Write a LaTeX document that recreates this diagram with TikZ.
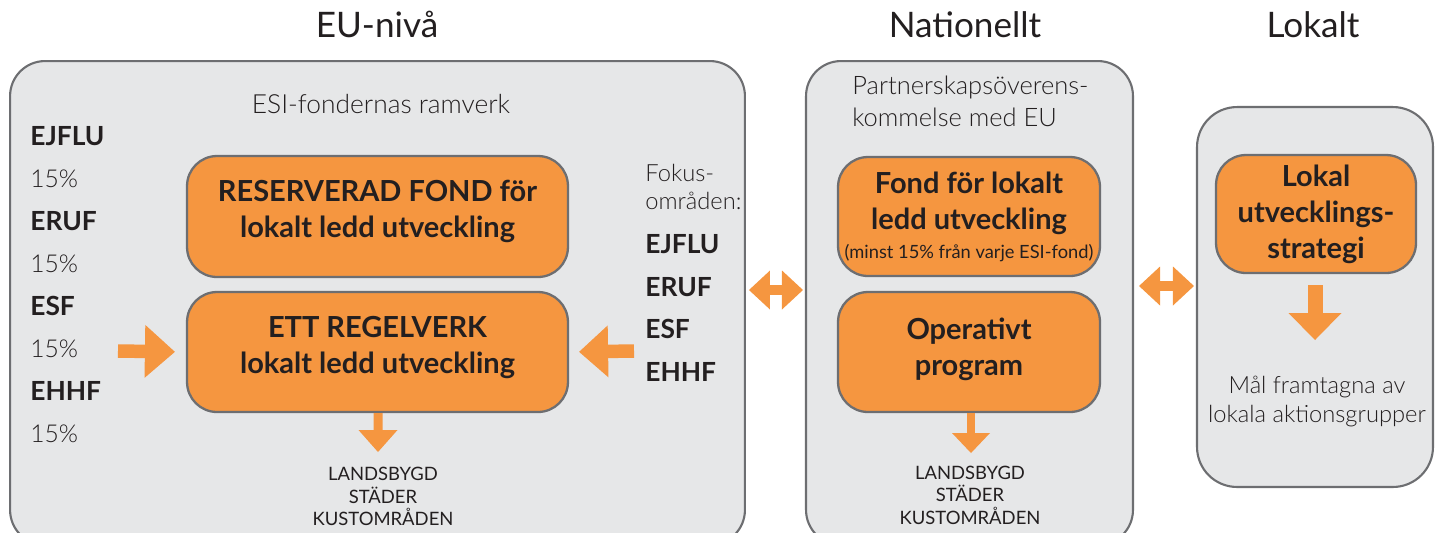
\documentclass[tikz,border=0pt]{standalone}
\usepackage{fontspec}
\setmainfont{Lato}
\newfontfamily\lightfont{Lato Light}
\usetikzlibrary{arrows.meta,positioning}
\definecolor{esiorange}{RGB}{245,150,64}
\definecolor{panelgray}{RGB}{230,231,232}
\definecolor{framegray}{RGB}{109,110,113}
\definecolor{ink}{RGB}{35,31,32}

\tikzset{
  panel/.style={draw=framegray,fill=panelgray,line width=1.2pt,rounded corners=0.7cm},
  fondbox/.style={draw=framegray,fill=esiorange,line width=1.3pt,rounded corners=0.6cm,
    align=center,text=ink,font=\bfseries\fontsize{16.5}{20.5}\selectfont},
  heading/.style={anchor=base,text=ink,font=\fontsize{20}{24}\selectfont},
  fundlabel/.style={anchor=base west,inner sep=0pt,text=ink,font=\bfseries\fontsize{15}{18}\selectfont},
  sharelabel/.style={anchor=base west,inner sep=0pt,text=ink,font=\lightfont\fontsize{14}{17}\selectfont},
  lighttext/.style={text=ink,font=\lightfont\fontsize{14.5}{18.2}\selectfont},
  areatext/.style={align=center,text=ink,font=\fontsize{10.5}{12.8}\selectfont},
  blockarrow/.style n args={4}{esiorange,line width=#1,
    -{Triangle[length=#2,width=#3,line width=0pt]},shorten >=#4},
  dblarrow/.style={esiorange,line width=0.2cm,
    {Triangle[length=0.42cm,width=0.78cm,line width=0pt]}-{Triangle[length=0.42cm,width=0.78cm,line width=0pt]}},
}

\begin{document}
\begin{tikzpicture}[x=0.02cm,y=-0.02cm]
\clip (0,0) rectangle (1437,532);

\node[heading] (hEU) at (377,37) {EU-nivå};
\node[heading] (hNat) at (965,37) {Nationellt};
\node[heading] (hLok) at (1313,37) {Lokalt};

\node[panel,minimum width=14.7cm,minimum height=9.68cm] (eu) at (377.5,303) {};
\node[panel,minimum width=6.54cm,minimum height=9.68cm] (nat) at (969.5,303) {};
\node[panel,minimum width=4.72cm,minimum height=7.6cm,rounded corners=0.8cm] (lok) at (1315,297) {};

% EU-nivå
\node[lighttext,anchor=base,font=\lightfont\fontsize{15}{18}\selectfont] (ramverk) at (381,113) {ESI-fondernas ramverk};
\node[fundlabel] (fA) at (30,145) {EJFLU};
\node[sharelabel] (sA) at (30,187) {15\%};
\node[fundlabel] (fB) at (30,230) {ERUF};
\node[sharelabel] (sB) at (30,272) {15\%};
\node[fundlabel] (fC) at (30,315) {ESF};
\node[sharelabel] (sC) at (30,357) {15\%};
\node[fundlabel] (fD) at (30,400) {EHHF};
\node[sharelabel] (sD) at (30,442) {15\%};

\node[fondbox,minimum width=7.62cm,minimum height=2.42cm,text depth=9pt] (reserv) at (377.5,216.5)
  {RESERVERAD FOND för\\lokalt ledd utveckling};
\node[fondbox,minimum width=7.62cm,minimum height=2.4cm,text depth=8pt] (regel) at (377.5,352)
  {ETT REGELVERK\\lokalt ledd utveckling};

\node[lighttext,align=left,anchor=west,inner sep=0pt,font=\lightfont\fontsize{13.5}{16.4}\selectfont] (fokus) at (645,187) {Fokus-\\områden:};
\node[fundlabel] (kA) at (645,253) {EJFLU};
\node[fundlabel] (kB) at (645,296) {ERUF};
\node[fundlabel] (kC) at (645,338) {ESF};
\node[fundlabel] (kD) at (645,381) {EHHF};

\coordinate (inL) at (118,351);
\coordinate (inR) at (634,351);
\coordinate (utEU) at (378,452);
\draw[blockarrow={0.27cm}{0.6cm}{1.06cm}{11*0.02cm}] (inL) -- (regel.west);
\draw[blockarrow={0.27cm}{0.58cm}{1.04cm}{10*0.02cm}] (inR) -- (regel.east);
\draw[blockarrow={0.18cm}{0.44cm}{0.78cm}{0pt}] ([xshift=0.5*0.02cm]regel.south) -- (utEU);
\node[areatext] (omrEU) at (383,496.5) {LANDSBYGD\\STÄDER\\KUSTOMRÅDEN};

% Nationellt
\node[lighttext,align=left,anchor=west,inner sep=0pt] (partner) at (852,101.7) {Partnerskapsöverens-\\kommelse med EU};
\node[fondbox,minimum width=5.24cm,minimum height=2.38cm] (fondlok) at (969,216.5)
  {Fond för lokalt\\ledd utveckling\\[-4pt]{\mdseries\fontsize{10.4}{12}\selectfont (minst 15\% från varje ESI-fond)}};
\node[fondbox,minimum width=5.24cm,minimum height=2.4cm,text depth=6pt] (operativ) at (969,352)
  {Operativt\\program};
\coordinate (utNat) at (971,453);
\draw[blockarrow={0.17cm}{0.4cm}{0.76cm}{0pt}] (operativ.south -| utNat) -- (utNat);
\node[areatext] (omrNat) at (970,495) {LANDSBYGD\\STÄDER\\KUSTOMRÅDEN};

% Lokalt
\node[fondbox,minimum width=4cm,minimum height=2.36cm] (strategi) at (1316,214)
  {Lokal\\utvecklings-\\strategi};
\coordinate (utLok) at (1315,340);
\draw[blockarrow={0.3cm}{0.54cm}{1.06cm}{0pt}] ([yshift=-11*0.02cm]strategi.south -| utLok) -- (utLok);
\node[lighttext,align=center,font=\lightfont\fontsize{13.5}{16.4}\selectfont] (maal) at (1317,401.7)
  {Mål framtagna av\\lokala aktionsgrupper};

\coordinate (pilA) at (0,290);
\coordinate (pilB) at (0,286);
\draw[dblarrow,shorten <=3*0.02cm,shorten >=2*0.02cm] (eu.east |- pilA) -- (nat.west |- pilA);
\draw[dblarrow,shorten <=5*0.02cm,shorten >=2*0.02cm] (nat.east |- pilB) -- (lok.west |- pilB);
\end{tikzpicture}
\end{document}
